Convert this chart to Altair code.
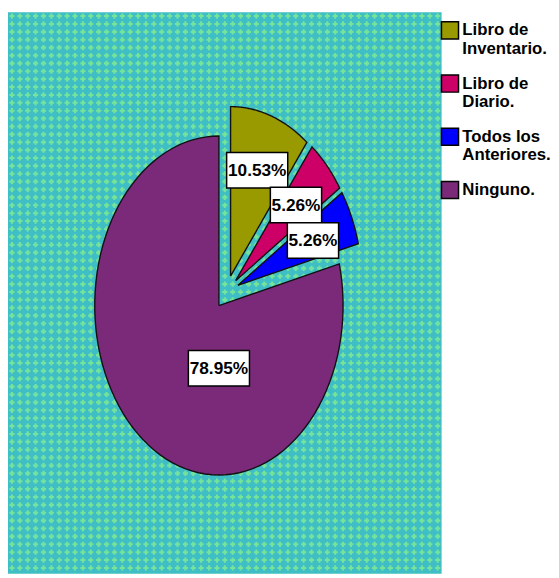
import altair as alt
import pandas as pd

categories = ["Libro de Inventario.", "Libro de Diario.", "Todos los Anteriores.", "Ninguno."]
percentages = [10.53, 5.26, 5.26, 78.95]
labels = ["10.53%", "5.26%", "5.26%", "78.95%"]
colors = ["#999900", "#CC0066", "#0000FF", "#7B2A79"]

FONT = "'Liberation Sans Narrow', 'Liberation Sans', Arial, sans-serif"
W, H = 440, 570
XPX, YPX = 126.0, 172.0          # pixels per unit radius (SPSS stretched pie)
XMIN, YMAX = -1.76, 1.652
XDOM = [XMIN, XMIN + W / XPX]
YDOM = [YMAX - H / YPX, YMAX]
EXPLODE = 0.1
N = 90
CELL = 8

df = pd.DataFrame({"cat": categories, "pct": percentages, "label": labels,
                   "idx": list(range(len(categories)))})

xs = alt.Scale(domain=XDOM, nice=False, zero=False)
ys = alt.Scale(domain=YDOM, nice=False, zero=False)

# decorative background texture (SPSS fill pattern)
pattern = alt.Chart(alt.sequence(0, W // CELL, as_="i")).transform_calculate(
    j=f"sequence(0, {H // CELL + 1})"
).transform_flatten(["j"]).transform_calculate(
    gx=f"datum.i*{CELL} + 4", gy=f"datum.j*{CELL} + 4",
).mark_point(shape="cross", filled=True, size=28, color="#76E39A", opacity=1,
             strokeWidth=0, clip=True).encode(
    x=alt.X("gx:Q", scale=None, axis=None),
    y=alt.Y("gy:Q", scale=None, axis=None),
)

base = alt.Chart(df).transform_window(
    cum="sum(pct)", sort=[alt.SortField("idx", order="ascending")], frame=[None, 0]
).transform_calculate(
    a0="2*PI*(datum.cum - datum.pct)/100",
    a1="2*PI*datum.cum/100",
).transform_calculate(
    mid="(datum.a0 + datum.a1)/2",
).transform_calculate(
    ex=f"{EXPLODE}*sin(datum.mid)",
    ey=f"{EXPLODE}*cos(datum.mid)",
)

slices = base.transform_calculate(
    step=f"sequence(0, {N + 3})"
).transform_flatten(["step"]).transform_calculate(
    t=f"clamp((datum.step - 1)/{N}, 0, 1)",
    edge=f"datum.step == 0 || datum.step == {N + 2}",
).transform_calculate(
    ang="datum.a0 + (datum.a1 - datum.a0)*datum.t",
).transform_calculate(
    px="datum.edge ? datum.ex : datum.ex + sin(datum.ang)",
    py="datum.edge ? datum.ey : datum.ey + cos(datum.ang)",
).mark_line(stroke="#111111", strokeWidth=1.4, strokeJoin="miter", interpolate="linear").encode(
    x=alt.X("px:Q", scale=xs, axis=None),
    y=alt.Y("py:Q", scale=ys, axis=None),
    fill=alt.Fill("cat:N", scale=alt.Scale(domain=categories, range=colors),
                  sort=categories,
                  legend=alt.Legend(
                      title=None, orient="none", legendX=W - 1, legendY=9,
                      symbolType="square",
                      symbolSize=300, symbolStrokeColor="black", symbolStrokeWidth=1.5,
                      symbolOpacity=1,
                      labelFont=FONT, labelFontSize=17, labelFontWeight="bold",
                      labelColor="black", labelLimit=200, rowPadding=14,
                      labelOffset=3, padding=0,
                      labelExpr="lastindexof(datum.label, ' ') > 0 ? [substring(datum.label, 0, lastindexof(datum.label, ' ')), substring(datum.label, lastindexof(datum.label, ' ') + 1)] : datum.label",
                  )),
    detail="cat:N",
    order=alt.Order("step:Q"),
)

lab = base.transform_calculate(
    la="datum.pct > 50 ? PI : datum.mid",
    lr="datum.pct > 50 ? 0.37 : 0.66",
).transform_calculate(
    lx="datum.ex + datum.lr*sin(datum.la)",
    ly="datum.ey + datum.lr*cos(datum.la)",
    hw=f"(10*length(datum.label) + 2)/2/{XPX}",
    hh=f"18/{YPX}",
).transform_calculate(
    bx1="datum.lx - datum.hw", bx2="datum.lx + datum.hw",
    by1="datum.ly - datum.hh", by2="datum.ly + datum.hh",
)

boxes = lab.mark_rect(fill="white", stroke="black", strokeWidth=1.5).encode(
    x=alt.X("bx1:Q", scale=xs, axis=None), x2="bx2:Q",
    y=alt.Y("by1:Q", scale=ys, axis=None), y2="by2:Q",
)
texts = lab.mark_text(font=FONT, fontSize=17.5, fontWeight="bold", color="black",
                      align="center", baseline="middle", dy=1).encode(
    x=alt.X("lx:Q", scale=xs, axis=None),
    y=alt.Y("ly:Q", scale=ys, axis=None),
    text="label:N",
)

chart = alt.layer(pattern, slices, boxes, texts).resolve_scale(
    x="independent", y="independent"
).properties(
    width=W, height=H, padding=0
).configure_view(fill="#3FBEC6", stroke=None)

chart.save("out.html", embed_options={"renderer": "svg", "actions": False})
